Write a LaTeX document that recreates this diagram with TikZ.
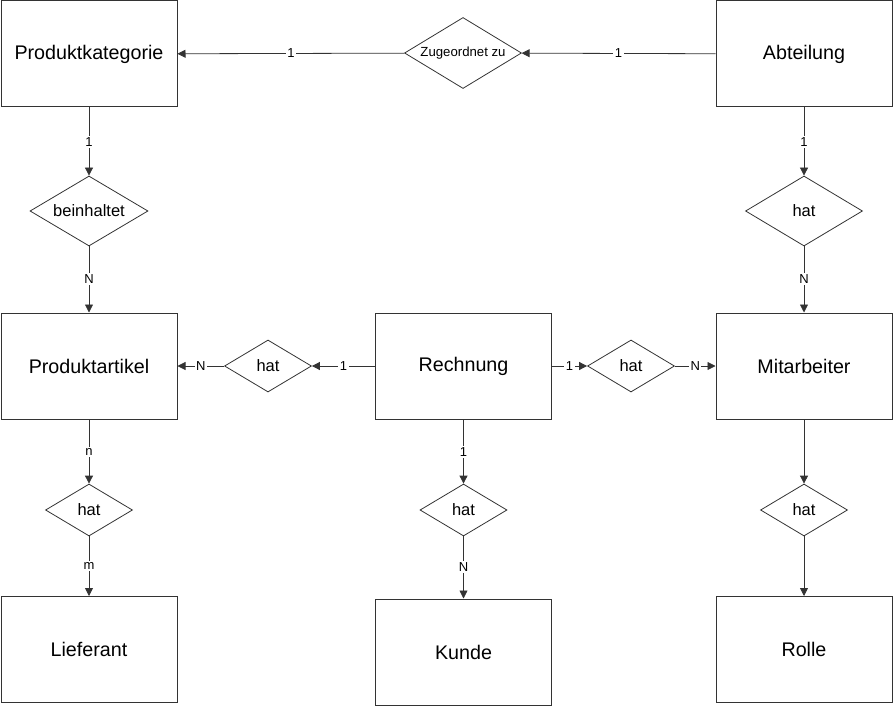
\documentclass[tikz,border=0pt]{standalone}
\usepackage{fontspec}
\setmainfont{Liberation Sans}
\usetikzlibrary{shapes.geometric,arrows.meta}

\begin{document}
\begin{tikzpicture}[x=1pt, y=-1pt, >={Triangle[length=8pt,width=8pt]}]
\tikzstyle{entity} = [draw=black!80, line width=1pt, rectangle, minimum width=176pt, minimum height=106pt, font=\fontsize{19.7}{24}\selectfont]
\tikzstyle{rel} = [draw=black!80, line width=0.8pt, diamond, aspect=1.65, inner sep=0pt, minimum width=87pt, minimum height=52pt, font=\fontsize{16.5}{20}\selectfont]
\tikzstyle{card} = [fill=white, inner sep=1.5pt, font=\fontsize{13}{15}\selectfont]
\useasboundingbox (0,0) rectangle (893,706);
% entities
\node[entity] (kat) at (89, 54) {Produktkategorie};
\node[entity] (abt) at (804, 54) {Abteilung};
\node[entity] (art) at (89, 366) {Produktartikel};
\node[entity] (rech) at (463.5, 366) {Rechnung};
\node[entity] (mit) at (804, 366) {Mitarbeiter};
\node[entity] (lief) at (89, 649.5) {Lieferant};
\node[entity] (kunde) at (463.5, 652) {Kunde};
\node[entity] (rolle) at (804, 649.5) {Rolle};
% relationships
\node[rel, minimum width=117pt, minimum height=71pt, font=\fontsize{13.2}{16}\selectfont] (zug) at (463, 53) {Zugeordnet zu};
\node[rel, minimum width=118pt, minimum height=70pt] (bein) at (89, 211) {beinhaltet};
\node[rel, minimum width=117pt, minimum height=70pt] (hatabt) at (804, 211) {hat};
\node[rel] (hatart) at (268, 366) {hat};
\node[rel] (hatmit) at (631, 366) {hat};
\node[rel] (hatlief) at (89, 510) {hat};
\node[rel] (hatkunde) at (463.5, 510) {hat};
\node[rel] (hatrolle) at (804, 510) {hat};
\foreach \from/\to/\card in {abt/zug/1, zug/kat/1, kat/bein/1, bein/art/N, abt/hatabt/1, hatabt/mit/N, rech/hatart/1, hatart/art/N, rech/hatmit/1, hatmit/mit/N, art/hatlief/n, hatlief/lief/m, rech/hatkunde/1, hatkunde/kunde/N}
\draw [->, draw=black!80, line width=0.8pt] (\from) -- node [card] {\card} (\to);
\foreach \from/\to in {mit/hatrolle, hatrolle/rolle}
\draw [->, draw=black!80, line width=0.8pt] (\from) -- (\to);
\end{tikzpicture}
\end{document}
